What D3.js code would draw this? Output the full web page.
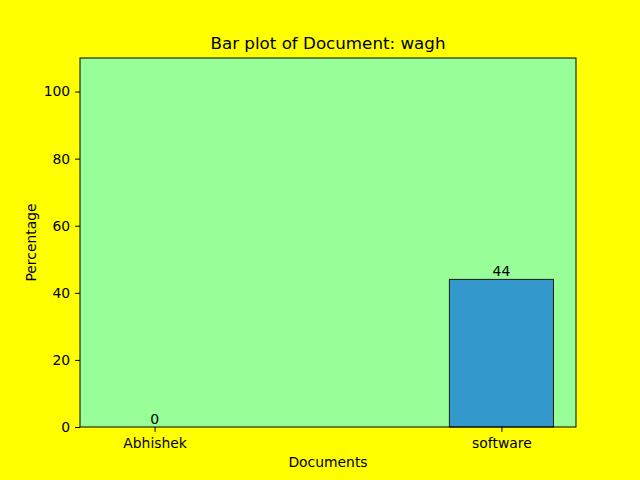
<!DOCTYPE html>
<html><head><meta charset="utf-8">
<script src="https://cdn.jsdelivr.net/npm/d3@7"></script>
<style>body{margin:0;background:#ffff00;} text{font-family:"DejaVu Sans",sans-serif;}</style>
</head><body>
<svg id="c" width="640" height="480"></svg>
<script>
const categories = ["Abhishek", "software"];
const values = [0, 44];
const yTicks = [0, 20, 40, 60, 80, 100];
const title = "Bar plot of Document: wagh";

const svg = d3.select("#c");
svg.append("rect").attr("width",640).attr("height",480).attr("fill","#ffff00");
const L=80, R=576, T=58, B=427;
const x = d3.scaleLinear().domain([-0.215, 1.215]).range([L, R]);
const y = d3.scaleLinear().domain([0, 110]).range([B, T]);
const bw = 0.3;
const fs = 13.9;

svg.append("rect").attr("x",L).attr("y",T).attr("width",R-L).attr("height",B-T).attr("fill","#98ff98");

svg.selectAll(".bar").data(values).enter().append("rect")
  .attr("x",(d,i)=>x(i-bw/2)).attr("width",(d,i)=>x(i+bw/2)-x(i-bw/2))
  .attr("y",d=>y(d)).attr("height",d=>y(0)-y(d))
  .attr("fill","#3399cc").attr("stroke","#1a1a1a").attr("stroke-width",1);

svg.selectAll(".lbl").data(values).enter().append("text")
  .attr("x",(d,i)=>x(i)).attr("y",d=>y(d)-3.5)
  .attr("text-anchor","middle").attr("font-size",fs).attr("fill","#000").text(d=>d);

const yAxis = svg.append("g").attr("transform",`translate(${L},0)`)
  .call(d3.axisLeft(y).tickValues(yTicks).tickSize(4.9).tickPadding(4.9));
yAxis.select(".domain").remove();
yAxis.selectAll("text").attr("font-size",fs).attr("font-family","DejaVu Sans").attr("fill","#000");

const xAxis = svg.append("g").attr("transform",`translate(0,${B})`)
  .call(d3.axisBottom(x).tickValues(categories.map((c,i)=>i)).tickFormat(i=>categories[i]).tickSize(4.9).tickPadding(6.3));
xAxis.select(".domain").remove();
xAxis.selectAll("text").attr("font-size",fs).attr("font-family","DejaVu Sans").attr("fill","#000");

svg.append("rect").attr("x",L).attr("y",T).attr("width",R-L).attr("height",B-T)
  .attr("fill","none").attr("stroke","#000").attr("stroke-width",1);

svg.append("text").attr("x",(L+R)/2).attr("y",T-9).attr("text-anchor","middle").attr("font-size",16.7).text(title);
svg.append("text").attr("x",(L+R)/2).attr("y",467).attr("text-anchor","middle").attr("font-size",fs).text("Documents");
svg.append("text").attr("transform",`translate(36,${(T+B)/2}) rotate(-90)`).attr("text-anchor","middle").attr("font-size",fs).text("Percentage");
</script>
</body></html>
